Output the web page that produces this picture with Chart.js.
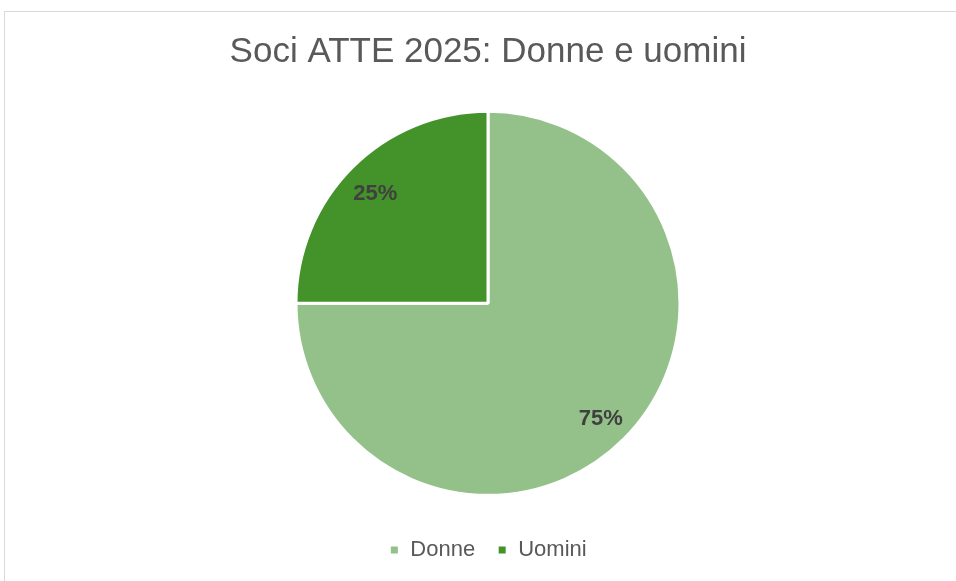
<!DOCTYPE html>
<html>
<head>
<meta charset="utf-8">
<script src="https://cdn.jsdelivr.net/npm/chart.js@4"></script>
<style>
  html, body { margin: 0; padding: 0; background: #fff; }
  #wrap { position: relative; width: 956px; height: 581px; overflow: hidden; }
  #frame { position: absolute; left: 4px; top: 11px; width: 1000px; height: 600px; border: 1px solid #d9d9d9; box-sizing: border-box; }
  #myChart { position: absolute; left: 0; top: 0; }
</style>
</head>
<body>
<div id="wrap">
  <div id="frame"></div>
  <canvas id="myChart" width="956" height="581"></canvas>
</div>
<script>
const categories = ['Donne', 'Uomini'];
const values = [75, 25];
const colors = ['#93c189', '#43922a'];
const titleText = 'Soci ATTE 2025: Donne e uomini';

// draws the percent labels inside the slices
const sliceLabels = {
  id: 'sliceLabels',
  afterDatasetsDraw(chart) {
    const c = chart.ctx;
    const meta = chart.getDatasetMeta(0);
    const total = values.reduce((a, b) => a + b, 0);
    c.save();
    c.font = 'bold 22px "Liberation Sans", Arial, sans-serif';
    c.fillStyle = '#404040';
    c.textAlign = 'center';
    c.textBaseline = 'middle';
    meta.data.forEach((arc, i) => {
      const p = arc.getProps(['x', 'y', 'startAngle', 'endAngle', 'outerRadius'], true);
      const mid = (p.startAngle + p.endAngle) / 2;
      const r = p.outerRadius * 0.83;
      const pct = Math.round(values[i] / total * 100) + '%';
      c.fillText(pct, p.x + Math.cos(mid) * r, p.y + Math.sin(mid) * r + 3);
    });
    c.restore();
  }
};

const ctx = document.getElementById('myChart');

new Chart(ctx, {
  type: 'pie',
  data: {
    labels: categories,
    datasets: [
      {
        data: values,
        backgroundColor: colors,
        borderColor: '#ffffff',
        borderWidth: 3,
        radius: 192,
      },
    ],
  },
  options: {
    responsive: false,
    animation: false,
    layout: {
      padding: { top: 16, bottom: 10, left: 20 },
    },
    plugins: {
      title: {
        display: true,
        text: titleText,
        color: '#595959',
        font: { family: '"Liberation Sans", Arial, sans-serif', size: 35, weight: 'normal' },
        padding: { top: 15, bottom: 16.6 },
      },
      legend: {
        position: 'bottom',
        labels: {
          color: '#595959',
          font: { family: '"Liberation Sans", Arial, sans-serif', size: 22 },
          boxWidth: 10,
          boxHeight: 10,
          padding: 22,
        },
      },
      tooltip: { enabled: false },
    },
  },
  plugins: [sliceLabels],
});
</script>
</body>
</html>
